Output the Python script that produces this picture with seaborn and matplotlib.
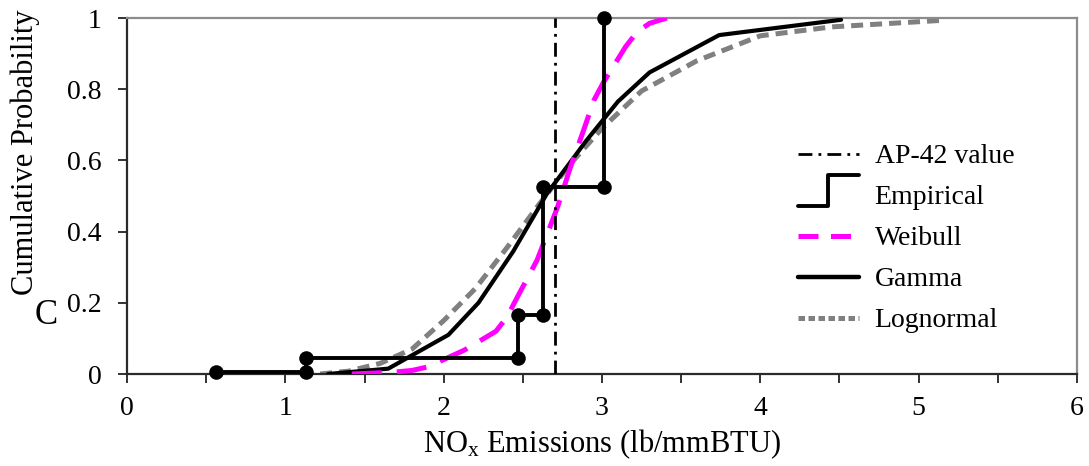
import matplotlib
matplotlib.use("Agg")
import matplotlib.pyplot as plt
import seaborn as sns
from matplotlib.lines import Line2D
from matplotlib.legend_handler import HandlerBase
from matplotlib.ticker import MultipleLocator, FuncFormatter

# ---- data -------------------------------------------------------------
ap42_value = 2.7

# empirical CDF: observed emissions and cumulative probability after each step
emp_x = [0.56, 1.13, 2.47, 2.63, 3.01]
emp_p = [0.005, 0.045, 0.166, 0.526, 1.0]

# fitted Weibull CDF
wei_x = [1.42, 1.68, 1.80, 1.90, 2.13, 2.33, 2.40, 2.47, 2.53, 2.59, 2.66,
         2.72, 2.80, 2.88, 2.95, 3.01, 3.08, 3.15, 3.22, 3.30, 3.41]
wei_p = [0.0, 0.005, 0.010, 0.020, 0.067, 0.120, 0.160, 0.220, 0.270, 0.320,
         0.400, 0.470, 0.580, 0.680, 0.770, 0.820, 0.870, 0.920, 0.960, 0.985, 1.0]

# fitted Gamma CDF
gam_x = [1.27, 1.65, 2.03, 2.22, 2.44, 2.65, 2.90, 3.10, 3.30, 3.74, 4.51]
gam_p = [0.0, 0.015, 0.110, 0.200, 0.345, 0.505, 0.655, 0.765, 0.847, 0.952, 0.995]

# fitted Lognormal CDF
ln_x = [1.22, 1.40, 1.60, 1.80, 2.00, 2.20, 2.40, 2.60, 2.80, 3.00, 3.25,
        3.60, 4.00, 4.45, 5.13]
ln_p = [0.0, 0.008, 0.030, 0.070, 0.150, 0.240, 0.355, 0.475, 0.590, 0.690,
        0.795, 0.880, 0.950, 0.975, 0.993]

x_ticks = [0, 1, 2, 3, 4, 5, 6]
y_ticks = [0, 0.2, 0.4, 0.6, 0.8, 1.0]

# ---- style -------------------------------------------------------------
sns.set_style("ticks")
plt.rcParams["font.family"] = ["Liberation Serif", "DejaVu Serif"]
plt.rcParams["mathtext.fontset"] = "custom"
plt.rcParams["mathtext.rm"] = "Liberation Serif"
plt.rcParams["mathtext.it"] = "Liberation Serif:italic"
plt.rcParams["text.color"] = "black"
plt.rcParams["axes.labelcolor"] = "black"
plt.rcParams["xtick.color"] = "black"
plt.rcParams["ytick.color"] = "black"

MAGENTA = "#FF00FF"
GRAY = "#808080"
AP_STYLE = (0, (5, 2.2, 1, 2.2))

W, H = 1089, 466
fig = plt.figure(figsize=(W / 100, H / 100), dpi=100)
ax = fig.add_axes([127 / W, 1 - 374 / H, 950 / W, 356 / H])

# ---- curves -----------------------------------------------------------
sns.lineplot(x=ln_x, y=ln_p, ax=ax, color=GRAY, lw=3.6,
             linestyle=(0, (2.4, 1.4)), zorder=2)
sns.lineplot(x=gam_x, y=gam_p, ax=ax, color="black", lw=3.0, zorder=3)
sns.lineplot(x=wei_x, y=wei_p, ax=ax, color=MAGENTA, lw=3.6,
             linestyle=(0, (6, 3)), zorder=4)

# empirical step function with a dot on every corner
sns.lineplot(x=emp_x, y=emp_p, ax=ax, color="black", lw=2.8,
             drawstyle="steps-post", zorder=5)
corner_x = emp_x + emp_x[1:]
corner_y = emp_p + emp_p[:-1]
sns.scatterplot(x=corner_x, y=corner_y, ax=ax, color="black", s=110,
                edgecolor="black", linewidth=0, zorder=6, clip_on=False)

# AP-42 emission factor
ax.axvline(ap42_value, color="black", lw=2.0, linestyle=AP_STYLE, zorder=4)

# ---- axes -------------------------------------------------------------
ax.set_xlim(0, 6)
ax.set_ylim(0, 1)
ax.set_xticks(x_ticks)
ax.set_yticks(y_ticks)
ax.xaxis.set_minor_locator(MultipleLocator(0.5))
ax.yaxis.set_major_formatter(FuncFormatter(lambda v, _: f"{v:g}"))
ax.tick_params(axis="x", which="both", direction="out", length=6.5, width=1.3,
               color="#222222", labelsize=20, pad=9, top=False)
ax.tick_params(axis="y", which="both", direction="out", length=6.5, width=1.3,
               color="#222222", labelsize=20, pad=12, right=False)

for side in ("left", "bottom"):
    ax.spines[side].set_color("#2a2a2a")
    ax.spines[side].set_linewidth(1.6)
for side in ("top", "right"):
    ax.spines[side].set_visible(True)
    ax.spines[side].set_color("#8c8c8c")
    ax.spines[side].set_linewidth(1.6)

ax.set_xlabel(r"NO$_\mathrm{x}$ Emissions (lb/mmBTU)", fontsize=22)
ax.xaxis.set_label_coords(0.5, -0.15)
ax.set_ylabel("Cumulative Probability", fontsize=22)
ax.yaxis.set_label_coords(-0.092, 0.624)

fig.text(46 / W, 1 - 316 / H, "C", fontsize=25, ha="center", va="center")


# ---- legend -----------------------------------------------------------
class StepHandler(HandlerBase):
    """Legend key drawn as a small rising step."""

    def create_artists(self, legend, orig_handle, xdescent, ydescent,
                       width, height, fontsize, trans):
        x0 = -xdescent
        xm = x0 + 0.48 * width
        x1 = x0 + width
        lo = -ydescent - 0.06 * height
        hi = -ydescent + 1.53 * height
        line = Line2D([x0, xm, xm, x1], [lo, lo, hi, hi],
                      color=orig_handle.get_color(),
                      lw=orig_handle.get_linewidth())
        line.set_transform(trans)
        return [line]


h_ap = Line2D([], [], color="black", lw=2.0, linestyle=AP_STYLE)
h_emp = Line2D([], [], color="black", lw=2.8)
h_wei = Line2D([], [], color=MAGENTA, lw=3.6, linestyle=(0, (4, 2.5)))
h_gam = Line2D([], [], color="black", lw=3.2)
h_ln = Line2D([], [], color=GRAY, lw=3.6, linestyle=(0, (1.3, 0.7)))

ax.legend([h_ap, h_emp, h_wei, h_gam, h_ln],
          ["AP-42 value", "Empirical", "Weibull", "Gamma", "Lognormal"],
          handler_map={h_emp: StepHandler()},
          loc="upper left", bbox_to_anchor=(0.7066, 0.646),
          frameon=False, fontsize=20, handlelength=2.2, handletextpad=0.55,
          labelspacing=0.56, borderpad=0, borderaxespad=0)

fig.savefig("out.png", dpi=100)
